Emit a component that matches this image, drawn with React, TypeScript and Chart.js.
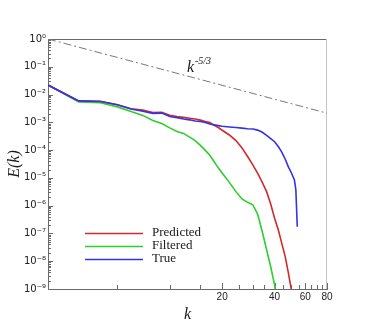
import { useEffect, useRef } from "react";
import { Chart, registerables } from "chart.js";

Chart.register(...registerables);

// ---- data ----
const kWave = [2, 3, 4, 5, 6, 7, 8, 9, 10, 11, 12, 13, 14, 15, 16, 17, 18, 19, 20, 22, 24, 26, 28, 30, 32, 34, 36, 38, 40, 42, 44, 46, 48, 50, 52, 53, 54];

const predictedE = [
  0.0221, 5.9e-3, 5.75e-3, 4.27e-3, 3.09e-3, 2.75e-3, 2.24e-3, 2.3e-3, 1.8e-3, 1.62e-3,
  1.51e-3, 1.41e-3, 1.32e-3, 1.2e-3, 1.07e-3, 9.8e-4, 7.8e-4, 6.5e-4, 5.2e-4,
  3.5e-4, 2.2e-4, 1.2e-4, 5.9e-5, 2.95e-5, 1.45e-5, 6.9e-6, 3.2e-6, 1.15e-6, 3.5e-7,
  1.35e-7, 4.4e-8, 1.5e-8, 3.8e-9, 8.9e-10, null, null, null,
];

const filteredE = [
  0.0221, 5.4e-3, 5.1e-3, 3.6e-3, 2.45e-3, 1.78e-3, 1.17e-3, 9.1e-4, 6.3e-4, 4.7e-4,
  4.0e-4, 2.95e-4, 2.2e-4, 1.48e-4, 9.8e-5, 6.5e-5, 3.8e-5, 2.3e-5, 1.5e-5,
  6.9e-6, 3.2e-6, 1.74e-6, 1.32e-6, 1.08e-6, 4.9e-7, 1.15e-7, 2.6e-8, 6.3e-9, 1.4e-9,
  1.5e-10, null, null, null, null, null, null, null,
];

const trueE = [
  0.0221, 5.9e-3, 5.6e-3, 4.27e-3, 3.0e-3, 2.5e-3, 2.1e-3, 2.15e-3, 1.62e-3, 1.48e-3,
  1.32e-3, 1.23e-3, 1.12e-3, 1.07e-3, 9.8e-4, 8.7e-4, 8.1e-4, 7.6e-4, 7.2e-4,
  6.8e-4, 6.5e-4, 6.2e-4, 5.9e-4, 5.75e-4, 5.25e-4, 4.4e-4, 3.4e-4, 2.6e-4, 2.0e-4,
  1.35e-4, 8.5e-5, 4.8e-5, 2.5e-5, 1.5e-5, 8.5e-6, 3.7e-6, 1.74e-7,
];

const refK = [2, 80];
const refE = [1, 2.14e-3];

const seriesNames = ["Predicted", "Filtered", "True"];
const seriesColors = ["#d22a2a", "#2ccf2c", "#3434e0"];

const yTickValues = [1e-9, 1e-8, 1e-7, 1e-6, 1e-5, 1e-4, 1e-3, 1e-2, 1e-1, 1];
const yTickLabels = ["10⁻⁹", "10⁻⁸", "10⁻⁷", "10⁻⁶", "10⁻⁵", "10⁻⁴", "10⁻³", "10⁻²", "10⁻¹", "10⁰"];
const xTickValues = [20, 40, 60, 80];
const xTickLabels = ["20", "40", "60", "80"];
const xTickMarks = [5, 10, 15, 20, 25, 30, 35, 40, 45, 50, 55, 60, 65, 70, 75, 80];

const AXIS = "#6a6a6a";

const toPoints = (ks: number[], es: (number | null)[]) =>
  ks.map((k, i) => ({ x: k, y: es[i] }));

const framePlugin = {
  id: "frame",
  beforeDatasetsDraw(chart: any) {
    const { ctx, chartArea: a, scales } = chart;
    const xs = scales.x;
    const ys = scales.y;
    ctx.save();
    ctx.lineWidth = 1;
    const seg = (x1: number, y1: number, x2: number, y2: number) => {
      ctx.beginPath();
      ctx.moveTo(x1, y1);
      ctx.lineTo(x2, y2);
      ctx.stroke();
    };
    ctx.strokeStyle = AXIS;
    seg(a.left, a.top + 0.5, a.right, a.top + 0.5);
    ctx.strokeStyle = "#c4c4c4";
    seg(a.right - 0.5, a.top, a.right - 0.5, a.bottom);
    ctx.strokeStyle = AXIS;
    for (let e = -9; e <= 0; e++) {
      for (let m = 1; m <= 9; m++) {
        const v = m * Math.pow(10, e);
        if (v > 1.0001) break;
        const py = Math.round(ys.getPixelForValue(v)) + 0.5;
        const len = m === 1 ? 5 : 3;
        seg(a.left, py, a.left + len, py);
      }
    }
    for (const v of xTickMarks) {
      const px = Math.round(xs.getPixelForValue(v)) + 0.5;
      const len = v % 20 === 0 ? 6 : 4;
      seg(px, a.bottom, px, a.bottom - len);
    }
    ctx.restore();
  },
  afterDraw(chart: any) {
    const { ctx } = chart;
    ctx.save();
    // legend
    const y0 = 233;
    const dy = 13;
    for (let i = 0; i < seriesNames.length; i++) {
      const y = y0 + i * dy + 0.5;
      ctx.strokeStyle = seriesColors[i];
      ctx.lineWidth = 1.6;
      ctx.beginPath();
      ctx.moveTo(85, y);
      ctx.lineTo(143, y);
      ctx.stroke();
      ctx.fillStyle = "#1a1a1a";
      ctx.font = "13px 'Liberation Serif', serif";
      ctx.textBaseline = "middle";
      ctx.textAlign = "left";
      ctx.fillText(seriesNames[i], 152, y0 + i * dy);
    }
    // k^-5/3 annotation
    ctx.fillStyle = "#1a1a1a";
    ctx.textBaseline = "alphabetic";
    ctx.font = "italic 16px 'Liberation Serif', serif";
    ctx.fillText("k", 187, 72);
    ctx.font = "italic 10px 'Liberation Serif', serif";
    ctx.fillText("-5/3", 195, 64);
    ctx.restore();
  },
};

export default function App() {
  const ref = useRef<HTMLCanvasElement>(null);

  useEffect(() => {
    const canvas = ref.current;
    if (!canvas) return;
    const chart = new Chart(canvas, {
      type: "line",
      data: {
        datasets: [
          {
            label: seriesNames[2],
            data: toPoints(kWave, trueE),
            borderColor: seriesColors[2],
            borderWidth: 1.6,
            pointRadius: 0,
            tension: 0,
            order: 0,
          },
          {
            label: seriesNames[0],
            data: toPoints(kWave, predictedE),
            borderColor: seriesColors[0],
            borderWidth: 1.6,
            pointRadius: 0,
            tension: 0,
            order: 1,
          },
          {
            label: seriesNames[1],
            data: toPoints(kWave, filteredE),
            borderColor: seriesColors[1],
            borderWidth: 1.6,
            pointRadius: 0,
            tension: 0,
            order: 2,
          },
          {
            label: "k^-5/3",
            data: toPoints(refK, refE),
            borderColor: "#787878",
            borderWidth: 1,
            borderDash: [8, 3, 2, 3],
            pointRadius: 0,
            tension: 0,
            order: 3,
          },
        ],
      },
      options: {
        animation: false,
        responsive: false,
        devicePixelRatio: 1,
        layout: { padding: { left: 0, right: 39, top: 39, bottom: 0 } },
        plugins: {
          legend: { display: false },
          tooltip: { enabled: false },
        },
        scales: {
          x: {
            type: "logarithmic",
            min: 2,
            max: 80,
            grid: { display: false, drawTicks: false },
            border: { display: true, color: AXIS, width: 1 },
            afterFit: (s: any) => {
              s.height = 36;
            },
            afterBuildTicks: (s: any) => {
              s.ticks = xTickValues.map((v) => ({ value: v }));
            },
            ticks: {
              autoSkip: false,
              maxRotation: 0,
              padding: 2,
              color: "#222",
              font: { family: "'Liberation Sans', Arial, sans-serif", size: 10 },
              callback: (v: any) => {
                const i = xTickValues.indexOf(Number(v));
                return i >= 0 ? xTickLabels[i] : "";
              },
            },
            title: {
              display: true,
              text: "k",
              color: "#1a1a1a",
              padding: { top: 2, bottom: 1 },
              font: { family: "'Liberation Serif', serif", size: 16, style: "italic" },
            },
          },
          y: {
            type: "logarithmic",
            min: 1e-9,
            max: 1,
            grid: { display: false, drawTicks: false },
            border: { display: true, color: AXIS, width: 1 },
            afterFit: (s: any) => {
              s.width = 48;
            },
            afterBuildTicks: (s: any) => {
              s.ticks = yTickValues.map((v) => ({ value: v }));
            },
            ticks: {
              autoSkip: false,
              padding: 2,
              color: "#222",
              font: { family: "'DejaVu Sans', sans-serif", size: 10 },
              callback: (v: any) => {
                const val = Number(v);
                const i = yTickValues.findIndex((t) => Math.abs(Math.log10(t) - Math.log10(val)) < 1e-6);
                return i >= 0 ? yTickLabels[i] : "";
              },
            },
            title: {
              display: true,
              text: "E(k)",
              color: "#1a1a1a",
              padding: { top: 5, bottom: 2 },
              font: { family: "'Liberation Serif', serif", size: 16, style: "italic" },
            },
          },
        },
      },
      plugins: [framePlugin],
    } as any);
    return () => chart.destroy();
  }, []);

  return (
    <div style={{ position: "fixed", left: 0, top: 0, width: 366, height: 325, background: "#fff" }}>
      <canvas ref={ref} width={366} height={325} style={{ display: "block", width: 366, height: 325 }} />
    </div>
  );
}
